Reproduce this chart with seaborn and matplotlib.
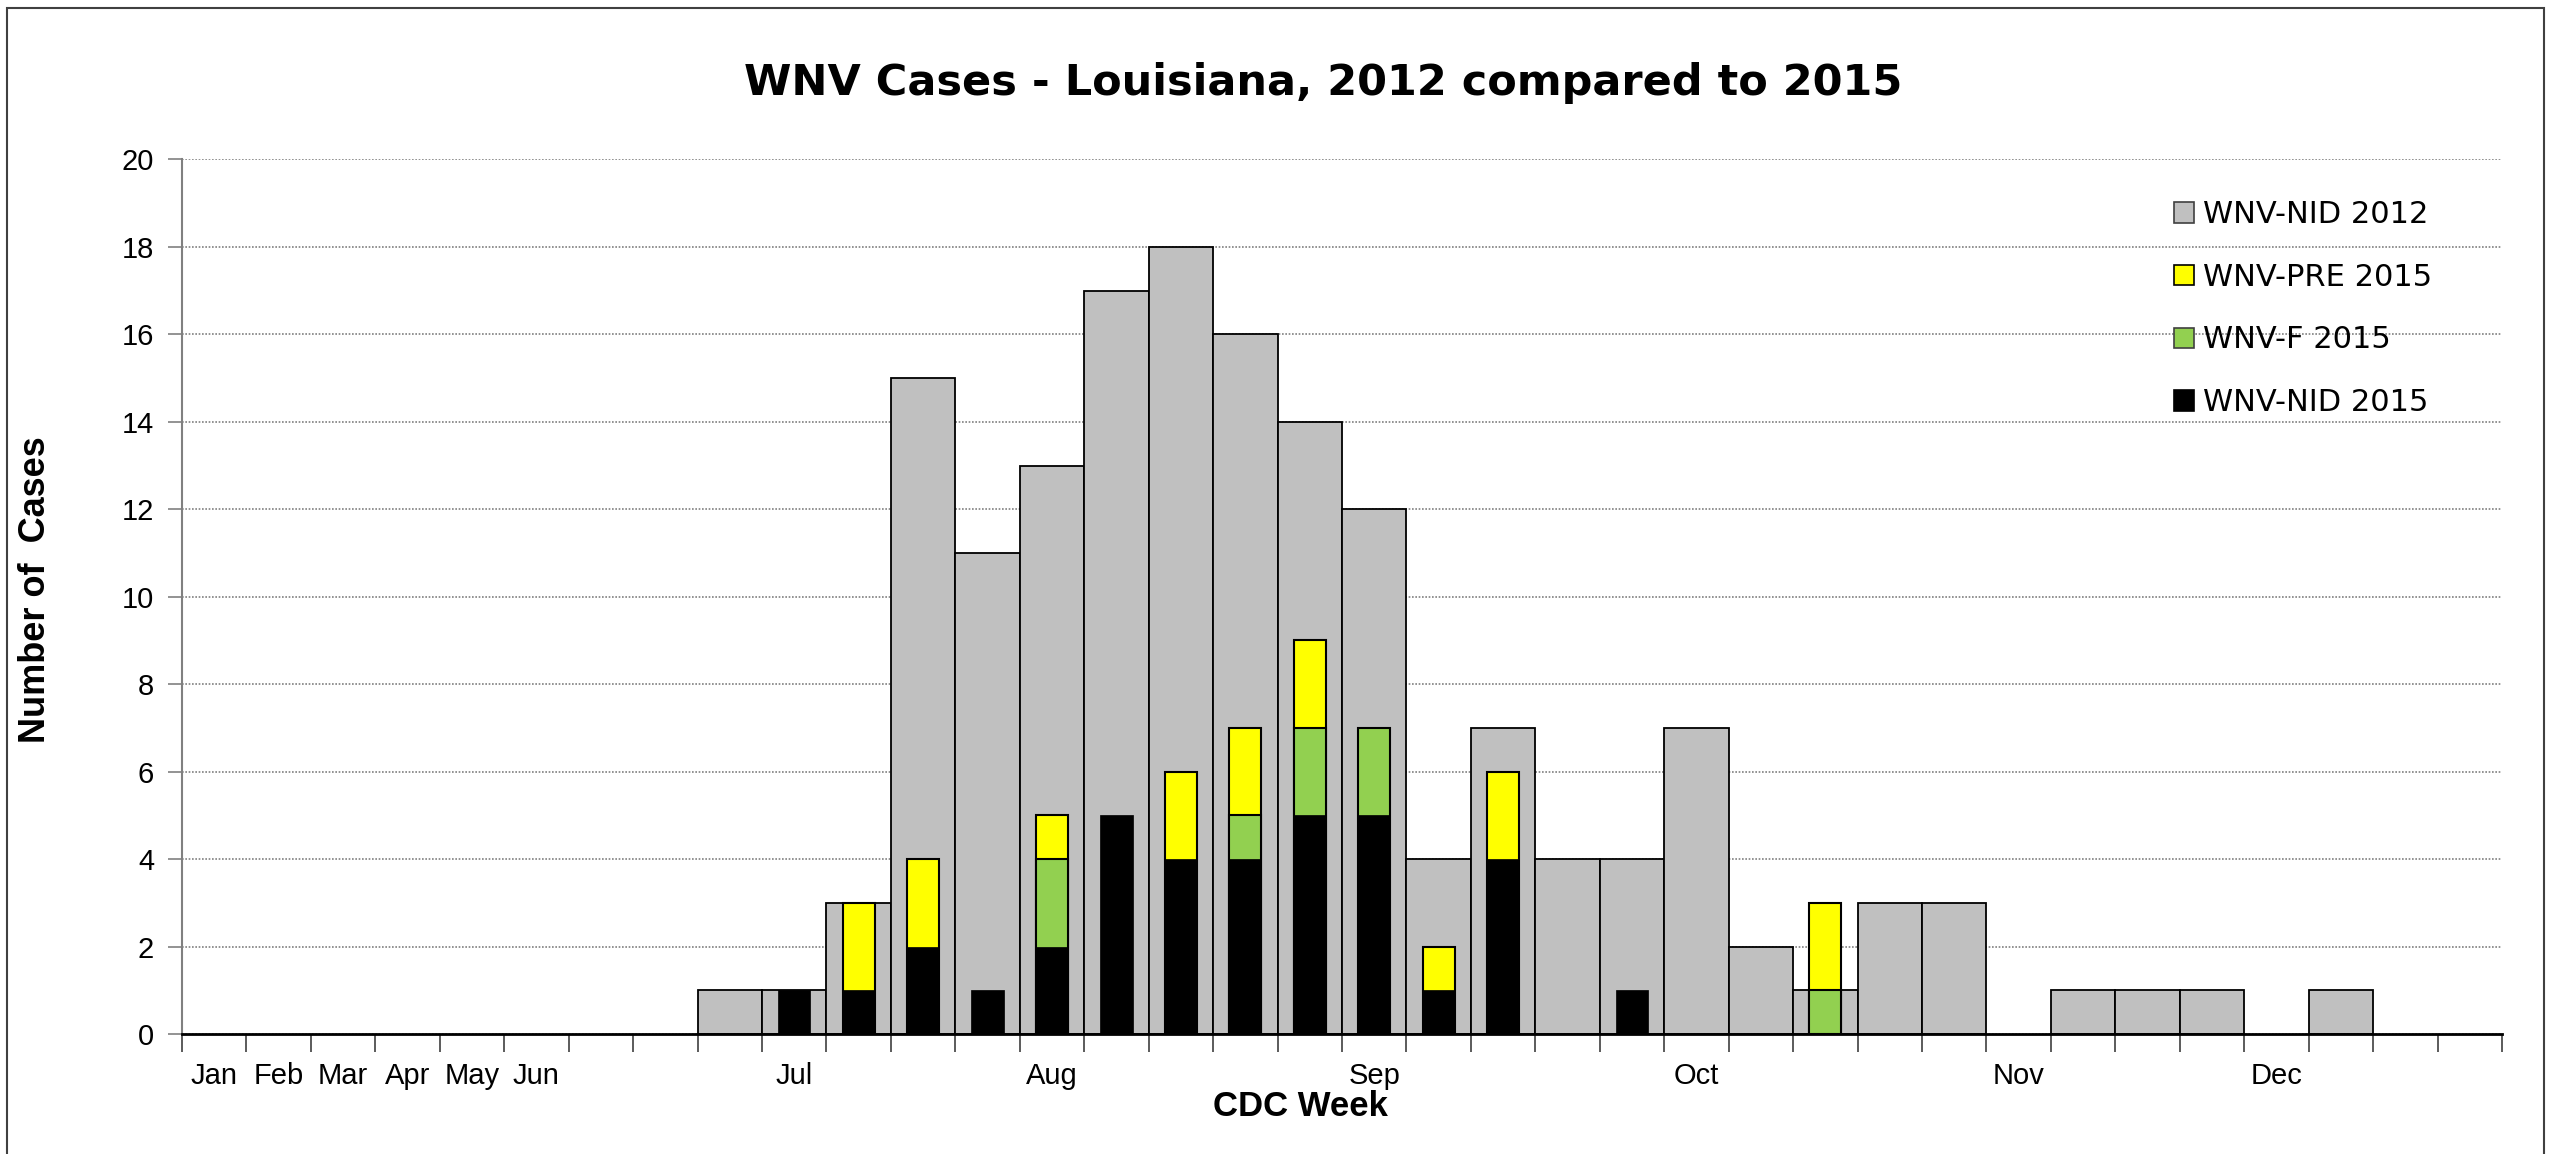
import matplotlib
matplotlib.use("Agg")
import matplotlib.pyplot as plt
import seaborn as sns
import pandas as pd
import numpy as np
from matplotlib.patches import Patch, Rectangle

# ---------------- data ----------------
weeks = [f"W{i}" for i in range(36)]
month_labels = ["Jan", "Feb", "Mar", "Apr", "May", "Jun", "", "", "", "Jul",
                "", "", "", "Aug", "", "", "", "", "Sep", "", "", "", "", "Oct",
                "", "", "", "", "Nov", "", "", "", "Dec", "", "", ""]
nid_2012 = [0, 0, 0, 0, 0, 0, 0, 0, 1, 1, 3, 15, 11, 13, 17, 18, 16, 14, 12, 4,
            7, 4, 4, 7, 2, 1, 3, 3, 0, 1, 1, 1, 0, 1, 0, 0]
nid_2015 = [0, 0, 0, 0, 0, 0, 0, 0, 0, 1, 1, 2, 1, 2, 5, 4, 4, 5, 5, 1,
            4, 0, 1, 0, 0, 0, 0, 0, 0, 0, 0, 0, 0, 0, 0, 0]
f_2015 = [0, 0, 0, 0, 0, 0, 0, 0, 0, 0, 0, 0, 0, 2, 0, 0, 1, 2, 2, 0,
          0, 0, 0, 0, 0, 1, 0, 0, 0, 0, 0, 0, 0, 0, 0, 0]
pre_2015 = [0, 0, 0, 0, 0, 0, 0, 0, 0, 0, 2, 2, 0, 1, 0, 2, 2, 2, 0, 1,
            2, 0, 0, 0, 0, 2, 0, 0, 0, 0, 0, 0, 0, 0, 0, 0]
series_labels = ["WNV-NID 2012", "WNV-PRE 2015", "WNV-F 2015", "WNV-NID 2015"]

df = pd.DataFrame({"week": weeks, "nid2012": nid_2012, "nid2015": nid_2015,
                   "f2015": f_2015, "pre2015": pre_2015})
df["top_f"] = df["nid2015"] + df["f2015"]
df["top_pre"] = df["top_f"] + df["pre2015"]

GRAY = "#c0c0c0"
YELLOW = "#ffff00"
GREEN = "#92d050"
BLACK = "#000000"

sns.set_style("white")
plt.rcParams["font.family"] = ["DejaVu Sans"]
plt.rcParams["text.color"] = "black"
plt.rcParams["axes.labelcolor"] = "black"
plt.rcParams["xtick.labelcolor"] = "black"
plt.rcParams["ytick.labelcolor"] = "black"

W, H = 2553, 1154
fig = plt.figure(figsize=(W / 100, H / 100), dpi=100)
ax = fig.add_axes([182 / W, 120 / H, (2502 - 182) / W, (1034 - 159.5) / H])

# gridlines
ax.set_axisbelow(True)
ax.yaxis.grid(True, linestyle=(0, (1, 1)), color="#808080", linewidth=1.2)
ax.xaxis.grid(False)

# 2012 bars
sns.barplot(data=df[df["nid2012"] > 0], x="week", y="nid2012", order=weeks,
            color=GRAY, saturation=1, width=1.0, edgecolor="black",
            linewidth=1.3, errorbar=None, ax=ax, zorder=2)
# 2015 stacked bars (drawn from tallest to shortest)
sns.barplot(data=df[df["pre2015"] > 0], x="week", y="top_pre", order=weeks,
            color=YELLOW, saturation=1, width=0.5, edgecolor="black",
            linewidth=1.5, errorbar=None, ax=ax, zorder=3)
sns.barplot(data=df[df["f2015"] > 0], x="week", y="top_f", order=weeks,
            color=GREEN, saturation=1, width=0.5, edgecolor="black",
            linewidth=1.5, errorbar=None, ax=ax, zorder=4)
sns.barplot(data=df[df["nid2015"] > 0], x="week", y="nid2015", order=weeks,
            color=BLACK, saturation=1, width=0.5, edgecolor="black",
            linewidth=0.5, errorbar=None, ax=ax, zorder=5)

ax.set_xlim(-0.5, 35.5)
ax.set_ylim(0, 20)
ax.set_xlabel("")
ax.set_ylabel("")

# axes styling
for s in ["top", "right"]:
    ax.spines[s].set_visible(False)
ax.spines["left"].set_color("#808080")
ax.spines["left"].set_linewidth(1.5)
ax.spines["bottom"].set_color("black")
ax.spines["bottom"].set_linewidth(2)
ax.spines["bottom"].set_zorder(6)

ax.set_yticks(np.arange(0, 21, 2))
ax.set_yticklabels([str(v) for v in range(0, 21, 2)],
                   fontfamily=["Liberation Sans", "DejaVu Sans"], fontsize=21,
                   color="black")
ax.tick_params(axis="y", which="major", direction="out", length=10, width=1.2,
               color="#808080", labelcolor="black", pad=10, left=True)

ax.set_xticks(range(36))
ax.set_xticklabels(month_labels,
                   fontfamily=["Liberation Sans Narrow", "Liberation Sans"],
                   fontsize=21, color="black")
ax.set_xticks(np.arange(-0.5, 36, 1), minor=True)
ax.tick_params(axis="x", which="major", length=0, pad=20, labelcolor="black")
ax.tick_params(axis="x", which="minor", direction="out", length=13, width=1.2,
               color="#404040", bottom=True)

# legend
handles = [Patch(facecolor=GRAY, edgecolor="#404040", linewidth=1.2),
           Patch(facecolor=YELLOW, edgecolor="black", linewidth=1.2),
           Patch(facecolor=GREEN, edgecolor="#404040", linewidth=1.2),
           Patch(facecolor=BLACK, edgecolor="black", linewidth=1.2)]
leg = fig.legend(handles, series_labels, loc="upper left",
                 bbox_to_anchor=(2162 / W, 1 - 188 / H), frameon=False,
                 prop={"family": "DejaVu Sans", "size": 22},
                 handlelength=0.65, handleheight=0.65, handletextpad=0.3,
                 labelspacing=1.1, borderaxespad=0)
for t in leg.get_texts():
    t.set_color("black")

# title and axis titles
fig.text(1323 / W, 1 - 83 / H, "WNV Cases - Louisiana, 2012 compared to 2015",
         ha="center", va="center", fontsize=31, fontweight="bold",
         fontfamily="DejaVu Sans", color="black")
fig.text(1300 / W, 1 - 1106 / H, "CDC Week", ha="center", va="center",
         fontsize=25, fontweight="bold", fontfamily="Liberation Sans",
         color="black")
fig.text(36 / W, 1 - 590 / H, "Number of  Cases", ha="center", va="center",
         rotation=90, fontsize=26, fontweight="bold",
         fontfamily=["Liberation Sans Narrow", "Liberation Sans"],
         color="black")

# outer border
fig.add_artist(Rectangle((7 / W, -0.02), (2544 - 7) / W, 1 - 8 / H + 0.02,
                         transform=fig.transFigure, fill=False,
                         edgecolor="#404040", linewidth=1.5))

fig.savefig("out.png", dpi=100)
